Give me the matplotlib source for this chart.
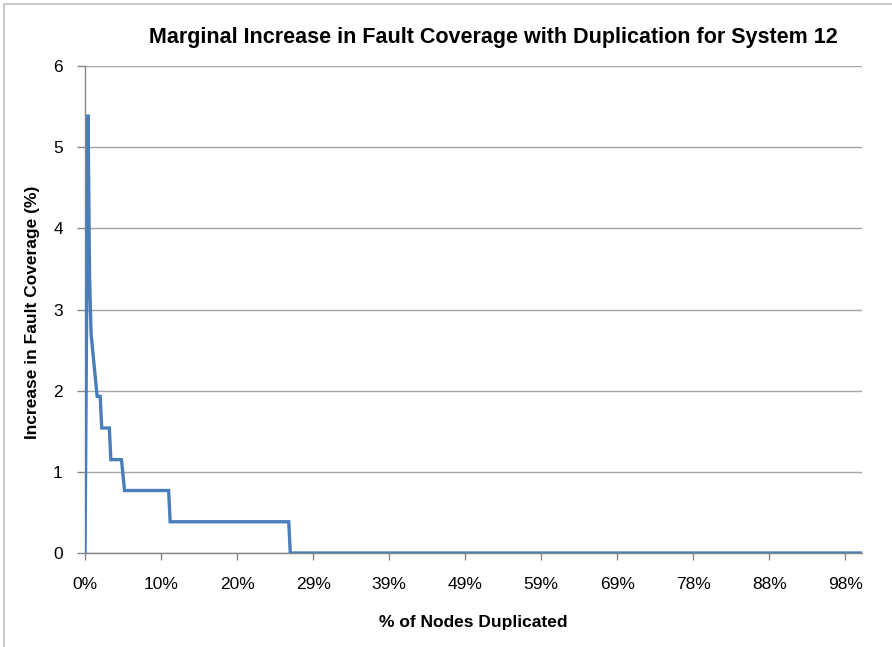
import matplotlib
matplotlib.use("Agg")
import matplotlib.pyplot as plt
from matplotlib import font_manager
from matplotlib.patches import Rectangle

# ---- data ----
total_nodes = 510
node_idx = [0, 2, 3, 4, 6, 8, 10, 11, 16, 17, 24, 26, 55, 56, 134, 135, 510]
increase = [0.0, 5.40, 3.40, 2.70, 2.31, 1.93, 1.93, 1.54, 1.54, 1.15, 1.15,
            0.77, 0.77, 0.385, 0.385, 0.0, 0.0]
tick_nodes = [0, 50, 100, 150, 200, 250, 300, 350, 400, 450, 500]
tick_labels = ["0%", "10%", "20%", "29%", "39%", "49%", "59%", "69%", "78%", "88%", "98%"]
y_ticks = [0, 1, 2, 3, 4, 5, 6]

title = "Marginal Increase in Fault Coverage with Duplication for System 12"
xlabel = "% of Nodes Duplicated"
ylabel = "Increase in Fault Coverage (%)"

names = {f.name for f in font_manager.fontManager.ttflist}
fam = [f for f in ["Liberation Sans Narrow", "Liberation Sans", "DejaVu Sans"] if f in names]
plt.rcParams['font.family'] = fam

W, H = 892, 647
fig = plt.figure(figsize=(W / 100, H / 100), dpi=100)
left, right, top, bottom = 85, 862, 66, 553
ax = fig.add_axes([left / W, 1 - bottom / H, (right - left) / W, (bottom - top) / H])

ax.plot(node_idx, increase, color="#4A7EBB", lw=2.4, solid_joinstyle="miter", zorder=3)

ax.set_xlim(0, total_nodes + 1)
ax.set_ylim(0, 6)
ax.set_yticks(y_ticks)
ax.set_yticklabels([str(v) for v in y_ticks], fontsize=12.5)
ax.set_xticks(tick_nodes)
ax.set_xticklabels(tick_labels, fontsize=12.5)
ax.tick_params(axis="x", length=5, color="#868686", pad=12, width=1)
ax.tick_params(axis="y", length=6, color="#868686", pad=10, width=1)

ax.grid(axis="y", color="#A6A6A6", lw=1)
ax.set_axisbelow(True)
for s in ["top", "right"]:
    ax.spines[s].set_visible(False)
for s in ["left", "bottom"]:
    ax.spines[s].set_color("#868686")
    ax.spines[s].set_linewidth(1)

fig.text(493 / W, 1 - 37 / H, title, ha="center", va="center",
         fontsize=15.5, fontweight="bold")
fig.text(473 / W, 1 - 622 / H, xlabel, ha="center", va="center",
         fontsize=12.5, fontweight="bold")
fig.text(33 / W, 1 - 312 / H, ylabel, ha="center", va="center",
         fontsize=12.5, fontweight="bold", rotation=90)

fig.patches.append(Rectangle((4 / W, -0.1), 1.2, 1 - 4 / H + 0.1,
                             transform=fig.transFigure, fill=False,
                             edgecolor="#BFBFBF", lw=1.2))

fig.savefig("out.png", dpi=100)
